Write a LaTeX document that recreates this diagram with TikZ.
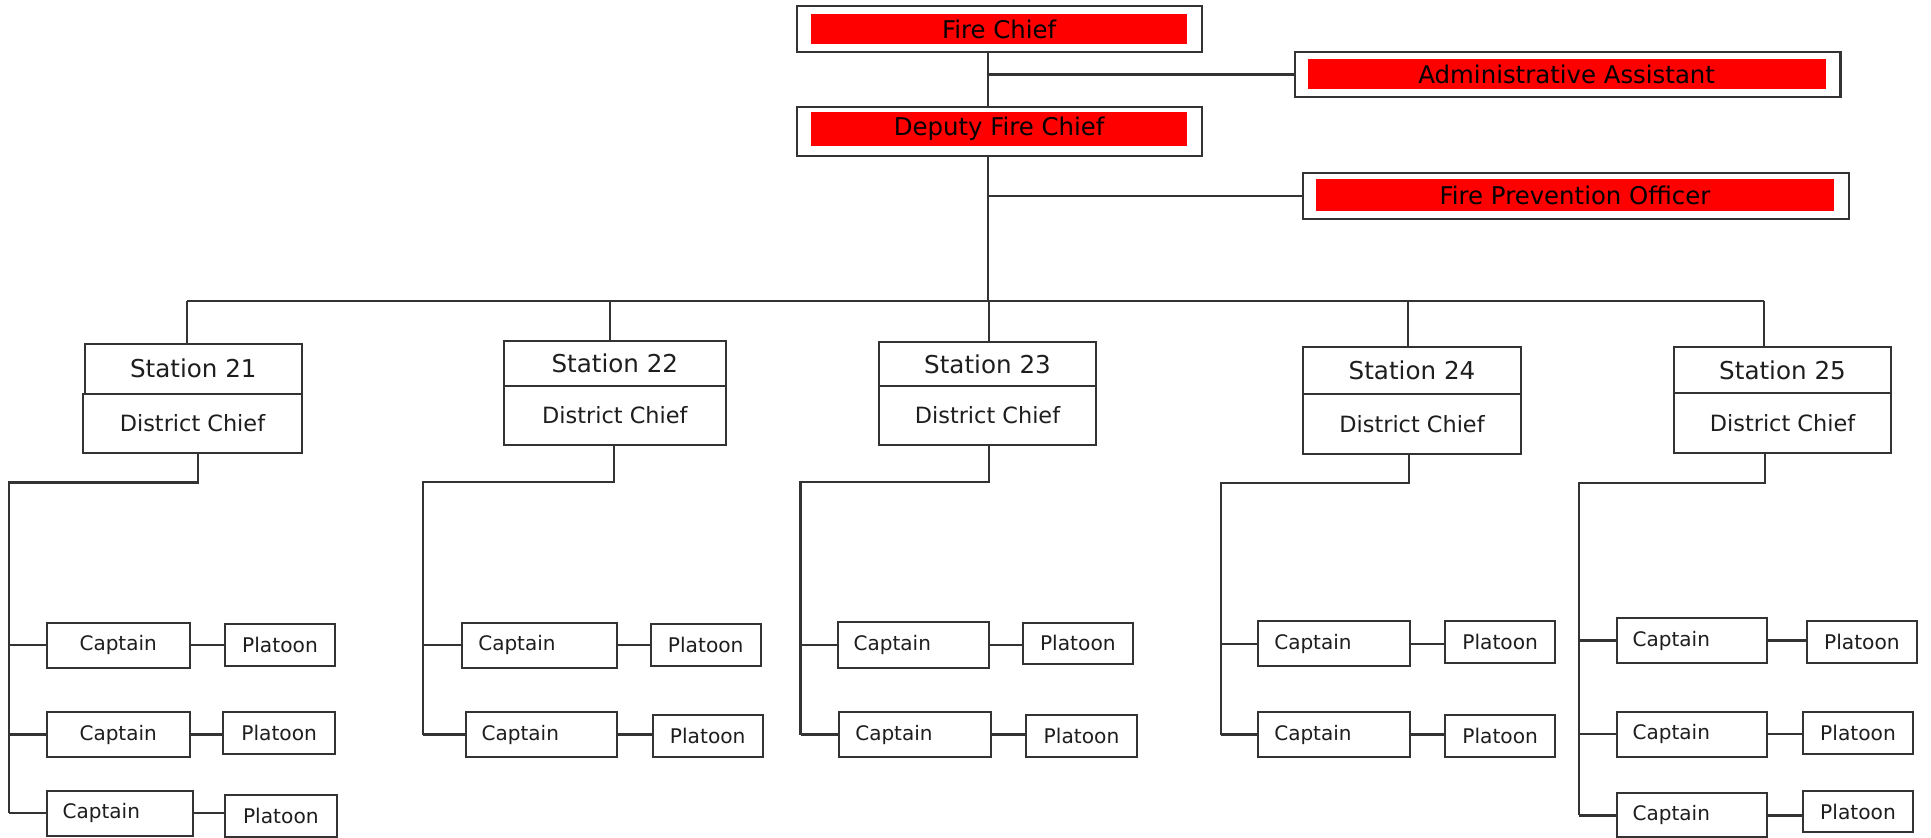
\documentclass[tikz,border=0pt]{standalone}
\usepackage{fontspec}
\setmainfont{DejaVu Sans}
\usetikzlibrary{calc}
\definecolor{ln}{HTML}{333333}
\definecolor{tx}{HTML}{1E1E1E}
\definecolor{fred}{RGB}{255,0,0}
\tikzset{
  box/.style={draw=ln, line width=1.1pt, rectangle, inner sep=0pt, text=tx, fill=white},
  redfill/.style={fill=fred, draw=none, rectangle, inner sep=0pt, text=black, font=\fontsize{12.2}{14}\selectfont},
  stbox/.style={box, font=\fontsize{12.3}{14}\selectfont},
  dcbox/.style={box, font=\fontsize{11.2}{13}\selectfont},
  capbox/.style={box, font=\fontsize{10}{12}\selectfont},
  platbox/.style={box, font=\fontsize{10.1}{12}\selectfont},
  conn/.style={draw=ln, line width=1.1pt},
}
% #1 style, #2 x1, #3 y1, #4 x2, #5 y2, #6 name, #7 text
\newcommand\bx[7][box]{%
  \node[#1, minimum width={(#4-#2)*0.5pt}, minimum height={(#5-#3)*0.5pt}] (#6) at ({(#2+#4)/2},{(#3+#5)/2}) {#7};}
% left aligned captain: #1 x1, #2 y1, #3 x2, #4 y2, #5 name
\newcommand\capL[5]{%
  \node[capbox, text width={(#3-#1-32)*0.5pt}, align=left, minimum width={(#3-#1)*0.5pt}, minimum height={(#4-#2)*0.5pt}] (#5) at ({(#1+#3)/2},{(#2+#4)/2}) {\raisebox{1.5pt}{Captain}};}
\newcommand\capC[5]{%
  \node[capbox, minimum width={(#3-#1)*0.5pt}, minimum height={(#4-#2)*0.5pt}] (#5) at ({(#1+#3)/2},{(#2+#4)/2}) {\raisebox{1.5pt}{Captain}};}
\newcommand\plat[5]{%
  \node[platbox, minimum width={(#3-#1)*0.5pt}, minimum height={(#4-#2)*0.5pt}] (#5) at ({(#1+#3)/2},{(#2+#4)/2}) {Platoon};}
\begin{document}
\begin{tikzpicture}[x=0.5pt,y=-0.5pt]
\useasboundingbox (0,0) rectangle (1931,838);

% top level
\bx{797}{6}{1202}{52.3}{fc}{}
\bx[redfill]{811.4}{14}{1186.8}{44}{fcr}{Fire Chief}
\bx{797}{106.7}{1202}{155.7}{dep}{}
\bx[redfill]{811.4}{112.3}{1186.8}{145.7}{depr}{Deputy Fire Chief}
\bx{1294.8}{51.7}{1840.5}{97.3}{adm}{}
\bx[redfill]{1307.7}{59.3}{1825.7}{89}{admr}{Administrative Assistant}
\bx{1303}{173.3}{1849}{219}{fpo}{}
\bx[redfill]{1316.3}{179.3}{1833.8}{210.7}{fpor}{Fire Prevention Officer}

\coordinate (trunk) at (988,300.7);
\draw[conn] (fc.south -| trunk) -- (dep.north -| trunk);
\draw[conn] (adm.west) -- (adm.west -| trunk);
\draw[conn] (dep.south -| trunk) -- (trunk);
\draw[conn] (fpo.west) -- (fpo.west -| trunk);

% stations
\bx[stbox]{85}{343.7}{301.7}{393.7}{s21}{Station 21}
\bx[dcbox]{83.3}{393.7}{301.7}{453.3}{dc21}{District Chief}
\bx[stbox]{504}{341.3}{725.7}{385.7}{s22}{Station 22}
\bx[dcbox]{504}{385.7}{725.7}{444.7}{dc22}{District Chief}
\bx[stbox]{879}{342.3}{1096}{385.7}{s23}{Station 23}
\bx[dcbox]{879}{385.7}{1096}{444.7}{dc23}{District Chief}
\bx[stbox]{1303.3}{347}{1520.7}{393.7}{s24}{Station 24}
\bx[dcbox]{1303.3}{393.7}{1520.7}{453.7}{dc24}{District Chief}
\bx[stbox]{1674.3}{347.3}{1890.7}{393.3}{s25}{Station 25}
\bx[dcbox]{1674.3}{393.3}{1890.7}{453.3}{dc25}{District Chief}

\coordinate (d21) at (187.3,300.7);
\coordinate (d22) at (609.7,300.7);
\coordinate (d23) at (989.3,300.7);
\coordinate (d24) at (1407.7,300.7);
\coordinate (d25) at (1764.3,300.7);
\draw[conn] (d21) -- (d25);
\foreach \i in {21,22,23,24,25}{\draw[conn] (d\i) -- (d\i |- s\i.north);}

% captains and platoons
\capC{46.7}{622.7}{189.7}{668}{c211}
\capC{46.7}{712}{189.7}{757}{c212}
\capL{46.7}{790.7}{192.7}{835.7}{c213}
\plat{225}{624}{335}{666.3}{p211}
\plat{223.3}{712}{335}{753.7}{p212}
\plat{225}{795.3}{336.7}{837.5}{p213}

\capL{462.3}{622.7}{617}{668}{c221}
\capL{465.7}{711.7}{617}{757.3}{c222}
\plat{650.7}{624}{760.7}{666.3}{p221}
\plat{652.7}{715.3}{762.7}{757.3}{p222}

\capL{837.7}{622.3}{989.3}{667.7}{c231}
\capL{839.3}{711.7}{990.7}{757.3}{c232}
\plat{1023}{622.7}{1132.7}{664}{p231}
\plat{1026.3}{715}{1136.7}{757.3}{p232}

\capL{1258.3}{621}{1409.7}{666.3}{c241}
\capL{1258.3}{711.7}{1409.7}{757.3}{c242}
\plat{1445.3}{621}{1555}{662.7}{p241}
\plat{1445.3}{715.3}{1555}{757.3}{p242}

\capL{1616.7}{618.3}{1767.3}{662.7}{c251}
\capL{1616.7}{712}{1767.3}{756.7}{c252}
\capL{1616.7}{793.3}{1767.3}{837.5}{c253}
\plat{1807}{621}{1916.7}{662.7}{p251}
\plat{1803.3}{711.7}{1912.7}{754}{p252}
\plat{1803.3}{790.7}{1912.7}{832.3}{p253}

% district chief to captains
\coordinate (k21) at (197.7,482.5);  \coordinate (v21) at (9,482.5);
\coordinate (k22) at (614,482);      \coordinate (v22) at (423,482);
\coordinate (k23) at (989.3,482.3);  \coordinate (v23) at (800.5,482.3);
\coordinate (k24) at (1409.3,482.7); \coordinate (v24) at (1220.7,482.7);
\coordinate (k25) at (1765,483.3);   \coordinate (v25) at (1579,483.3);

\draw[conn] (k21 |- dc21.south) -- (k21) -- (v21) -- (v21 |- c213.west);
\draw[conn] (k22 |- dc22.south) -- (k22) -- (v22) -- (v22 |- c222.west);
\draw[conn] (k23 |- dc23.south) -- (k23) -- (v23) -- (v23 |- c232.west);
\draw[conn] (k24 |- dc24.south) -- (k24) -- (v24) -- (v24 |- c242.west);
\draw[conn] (k25 |- dc25.south) -- (k25) -- (v25) -- (v25 |- c253.west);

\foreach \c/\v in {c211/v21,c212/v21,c213/v21,c221/v22,c222/v22,c231/v23,c232/v23,c241/v24,c242/v24,c251/v25,c252/v25,c253/v25}{
  \draw[conn] (\c.west) -- (\c.west -| \v);}
\foreach \c/\p in {c211/p211,c212/p212,c213/p213,c221/p221,c222/p222,c231/p231,c232/p232,c241/p241,c242/p242,c251/p251,c252/p252,c253/p253}{
  \draw[conn] (\c.east) -- (\c.east -| \p.west);}
\end{tikzpicture}
\end{document}
